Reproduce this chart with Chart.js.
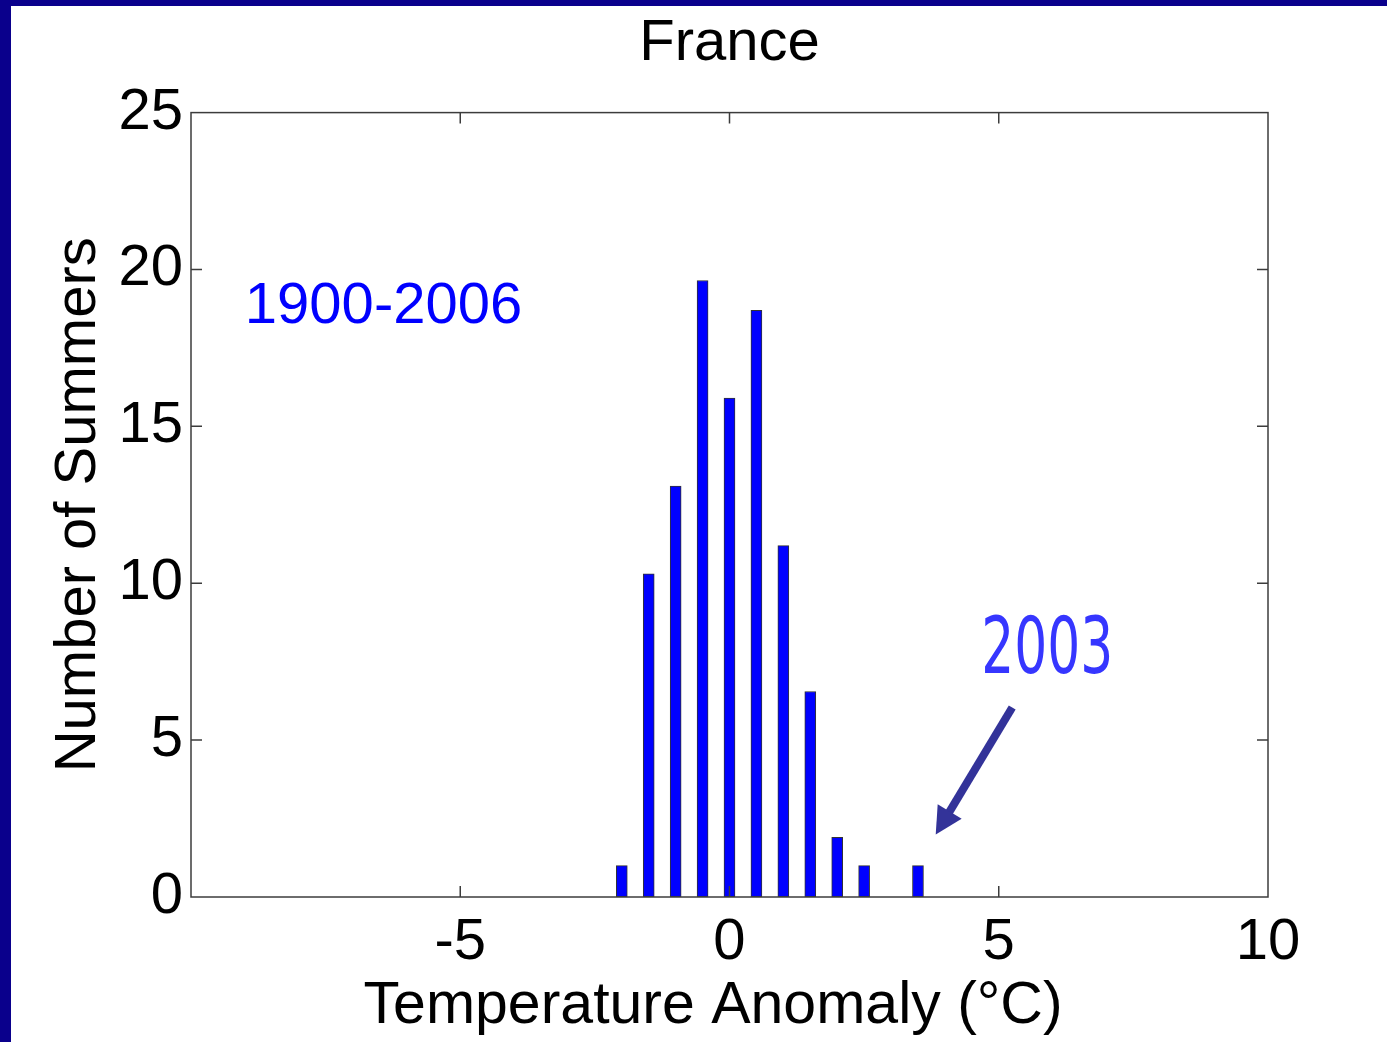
<!DOCTYPE html>
<html><head><meta charset="utf-8">
<script src="https://cdn.jsdelivr.net/npm/chart.js@4/dist/chart.umd.min.js"></script>
<style>html,body{margin:0;padding:0;background:#fff;overflow:hidden}#wrap{width:1387px;height:1042px}</style>
</head><body><div id="wrap"><canvas id="c" width="1387" height="1042"></canvas></div>
<script>
// Data
const binCenters = [-2, -1.5, -1, -0.5, 0, 0.5, 1, 1.5, 2, 2.5, 3.5];
const summerCounts = [1, 10.3, 13.1, 19.65, 15.9, 18.7, 11.2, 6.55, 1.9, 1, 1];
const xTickValues = [-5, 0, 5, 10];
const yTickValues = [0, 5, 10, 15, 20, 25];
const chartTitle = 'France';
const xAxisTitle = 'Temperature Anomaly (°C)';
const yAxisTitle = 'Number of Summers';
const periodLabel = '1900-2006';
const periodLabelPos = [-9, 18.3];
const eventLabel = '2003';
const eventLabelPos = [5.9, 7.13];
const arrowFrom = [5.25, 6.04];
const arrowTo = [3.83, 1.99];

const FONT = "'Liberation Sans', Arial, Helvetica, sans-serif";

const framePlugin = {
  id: 'frame',
  beforeDraw(chart) {
    const ctx = chart.ctx;
    ctx.save();
    ctx.fillStyle = '#ffffff';
    ctx.fillRect(0, 0, chart.width, chart.height);
    ctx.fillStyle = '#0a008c';
    ctx.fillRect(0, 0, chart.width, 6);
    ctx.fillRect(0, 0, 11, chart.height);
    ctx.restore();
  },
  afterDraw(chart) {
    const ctx = chart.ctx;
    const a = chart.chartArea;
    const xs = chart.scales.x, ys = chart.scales.y;
    ctx.save();
    ctx.strokeStyle = '#3c3c3c';
    ctx.lineWidth = 1.5;
    ctx.strokeRect(a.left, a.top, a.right - a.left, a.bottom - a.top);
    const tl = 11;
    ctx.beginPath();
    xs.ticks.forEach(t => {
      const px = xs.getPixelForValue(t.value);
      if (px <= a.left + 1 || px >= a.right - 1) return;
      ctx.moveTo(px, a.bottom); ctx.lineTo(px, a.bottom - tl);
      ctx.moveTo(px, a.top); ctx.lineTo(px, a.top + tl);
    });
    ys.ticks.forEach(t => {
      const py = ys.getPixelForValue(t.value);
      if (py <= a.top + 1 || py >= a.bottom - 1) return;
      ctx.moveTo(a.left, py); ctx.lineTo(a.left + tl, py);
      ctx.moveTo(a.right, py); ctx.lineTo(a.right - tl, py);
    });
    ctx.stroke();

    ctx.fillStyle = '#0000ff';
    ctx.font = "58px " + FONT;
    ctx.textAlign = 'left';
    ctx.textBaseline = 'alphabetic';
    ctx.fillText(periodLabel, xs.getPixelForValue(periodLabelPos[0]), ys.getPixelForValue(periodLabelPos[1]));

    ctx.fillStyle = '#3636ff';
    ctx.font = "78px 'Liberation Sans Narrow', 'DejaVu Sans Condensed', " + FONT;
    const w = ctx.measureText(eventLabel).width;
    const sx = 132 / w;
    ctx.save();
    ctx.translate(xs.getPixelForValue(eventLabelPos[0]), ys.getPixelForValue(eventLabelPos[1]));
    ctx.scale(sx, 1);
    ctx.textAlign = 'center';
    ctx.fillText(eventLabel, 0, 0);
    ctx.restore();

    const x0 = xs.getPixelForValue(arrowFrom[0]), y0 = ys.getPixelForValue(arrowFrom[1]);
    const x1 = xs.getPixelForValue(arrowTo[0]), y1 = ys.getPixelForValue(arrowTo[1]);
    const dx = x1 - x0, dy = y1 - y0, len = Math.hypot(dx, dy);
    const ux = dx / len, uy = dy / len;
    const hl = 27, hw = 14;
    const bx = x1 - ux * hl, by = y1 - uy * hl;
    ctx.strokeStyle = '#333399';
    ctx.fillStyle = '#333399';
    ctx.lineWidth = 8;
    ctx.lineCap = 'butt';
    ctx.beginPath();
    ctx.moveTo(x0, y0);
    ctx.lineTo(bx + ux * 4, by + uy * 4);
    ctx.stroke();
    ctx.beginPath();
    ctx.moveTo(x1, y1);
    ctx.lineTo(bx - uy * hw, by + ux * hw);
    ctx.lineTo(bx + uy * hw, by - ux * hw);
    ctx.closePath();
    ctx.fill();
    ctx.restore();
  }
};

new Chart(document.getElementById('c'), {
  type: 'bar',
  data: {
    datasets: [{
      data: binCenters.map((x, i) => ({ x: x, y: summerCounts[i] })),
      backgroundColor: '#0000ff',
      borderColor: '#333333',
      borderWidth: 1,
      borderSkipped: false,
      barThickness: 11
    }]
  },
  options: {
    responsive: false,
    animation: false,
    devicePixelRatio: 1,
    layout: { padding: { left: 0, right: 119, top: 0, bottom: 0 } },
    plugins: {
      legend: { display: false },
      tooltip: { enabled: false },
      title: {
        display: true,
        text: chartTitle,
        color: '#000',
        fullSize: false,
        font: { family: FONT, size: 58, weight: 'normal' },
        padding: { top: 9, bottom: 34 }
      }
    },
    scales: {
      x: {
        type: 'linear',
        offset: false,
        min: -10, max: 10,
        afterBuildTicks: (s) => { s.ticks = xTickValues.map(v => ({ value: v })); },
        afterFit: (s) => { s.height = 145; },
        grid: { display: false, drawTicks: false, offset: false },
        border: { display: false },
        ticks: { color: '#000', padding: 11, font: { family: FONT, size: 58 }, maxRotation: 0 },
        title: { display: true, text: xAxisTitle + '\u00a0\u00a0', color: '#000', font: { family: FONT, size: 59 }, padding: { top: 0, bottom: 0 } }
      },
      y: {
        min: 0, max: 25,
        afterBuildTicks: (s) => { s.ticks = yTickValues.map(v => ({ value: v })); },
        afterFit: (s) => { s.width = 191; },
        grid: { display: false, drawTicks: false },
        border: { display: false },
        ticks: { color: '#000', padding: 8, font: { family: FONT, size: 58 } },
        title: { display: true, text: yAxisTitle, color: '#000', font: { family: FONT, size: 58 }, padding: { top: 44, bottom: 0 } }
      }
    }
  },
  plugins: [framePlugin]
});
</script>
</body></html>
